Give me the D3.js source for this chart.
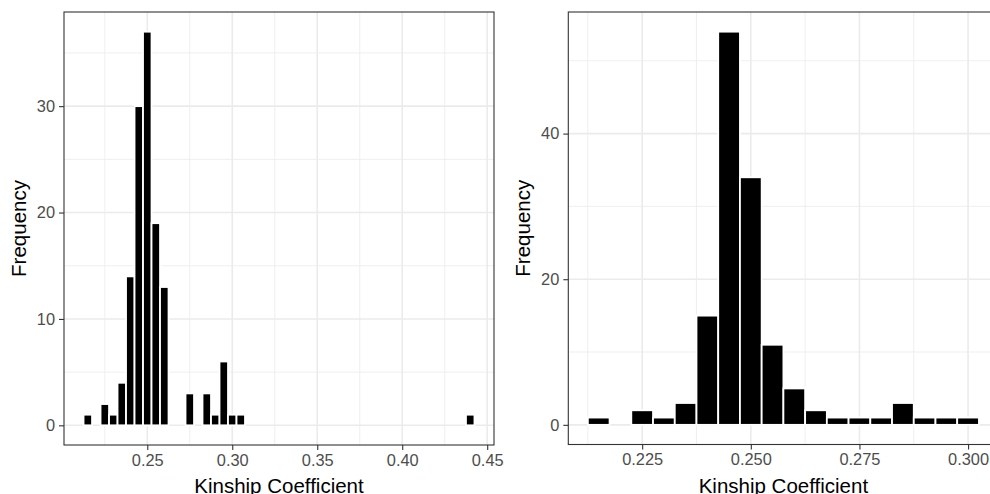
<!DOCTYPE html>
<html>
<head>
<meta charset="utf-8">
<script src="https://cdn.jsdelivr.net/npm/d3@7"></script>
<style>
  body { margin: 0; background: #fff; }
  svg { display: block; font-family: "Liberation Sans", Arial, sans-serif; }
</style>
</head>
<body>
<svg id="chart" width="990" height="494"></svg>
<script>
"use strict";

// histogram bins (centres) and counts
const binWidth = 0.005;

const leftBins = [0.215, 0.22, 0.225, 0.23, 0.235, 0.24, 0.245, 0.25, 0.255, 0.26,
                  0.265, 0.27, 0.275, 0.28, 0.285, 0.29, 0.295, 0.30, 0.305, 0.31,
                  0.315, 0.32, 0.325, 0.33, 0.335, 0.34, 0.345, 0.35, 0.355, 0.36,
                  0.365, 0.37, 0.375, 0.38, 0.385, 0.39, 0.395, 0.40, 0.405, 0.41,
                  0.415, 0.42, 0.425, 0.43, 0.435, 0.44];
const leftCounts = [1, 0, 2, 1, 4, 14, 30, 37, 19, 13,
                    0, 0, 3, 0, 3, 1, 6, 1, 1, 0,
                    0, 0, 0, 0, 0, 0, 0, 0, 0, 0,
                    0, 0, 0, 0, 0, 0, 0, 0, 0, 0,
                    0, 0, 0, 0, 0, 1];
const leftXTicks = [0.25, 0.30, 0.35, 0.40, 0.45];
const leftXMinor = [0.225, 0.275, 0.325, 0.375, 0.425];
const leftYTicks = [0, 10, 20, 30];
const leftYMinor = [5, 15, 25, 35];

const rightBins = [0.215, 0.22, 0.225, 0.23, 0.235, 0.24, 0.245, 0.25, 0.255, 0.26,
                   0.265, 0.27, 0.275, 0.28, 0.285, 0.29, 0.295, 0.30];
const rightCounts = [1, 0, 2, 1, 3, 15, 54, 34, 11, 5,
                     2, 1, 1, 1, 3, 1, 1, 1];
const rightXTicks = [0.225, 0.25, 0.275, 0.30];
const rightXMinor = [0.2125, 0.2375, 0.2625, 0.2875];
const rightYTicks = [0, 20, 40];
const rightYMinor = [10, 30, 50];

const svg = d3.select("#chart");

function drawPanel(o) {
	let data = o.bins.map((b, i) => ({x: b, n: o.counts[i]}));

	// ggplot style 5% expansion
	let xlo = d3.min(data, d => d.x) - binWidth / 2;
	let xhi = d3.max(data, d => d.x) + binWidth / 2;
	let xpad = (xhi - xlo) * 0.05;
	let ymax = d3.max(data, d => d.n);
	let ypad = ymax * 0.05;

	let x = d3.scaleLinear().domain([xlo - xpad, xhi + xpad]).range([o.left, o.right]);
	let y = d3.scaleLinear().domain([-ypad, ymax + ypad]).range([o.bottom, o.top]);

	let g = svg.append("g");

	// clip panel contents
	let clipId = "clip" + o.id;
	g.append("clipPath").attr("id", clipId)
		.append("rect")
		.attr("x", o.left).attr("y", o.top)
		.attr("width", o.right - o.left).attr("height", o.bottom - o.top);

	let panel = g.append("g").attr("clip-path", `url(#${clipId})`);

	// grid
	panel.selectAll(".vminor").data(o.xMinor).join("line")
		.attr("x1", d => x(d)).attr("x2", d => x(d))
		.attr("y1", o.top).attr("y2", o.bottom)
		.attr("stroke", "#ebebeb").attr("stroke-width", 0.8);
	panel.selectAll(".hminor").data(o.yMinor).join("line")
		.attr("y1", d => y(d)).attr("y2", d => y(d))
		.attr("x1", o.left).attr("x2", o.right)
		.attr("stroke", "#ebebeb").attr("stroke-width", 0.8);
	panel.selectAll(".vmajor").data(o.xTicks).join("line")
		.attr("x1", d => x(d)).attr("x2", d => x(d))
		.attr("y1", o.top).attr("y2", o.bottom)
		.attr("stroke", "#ebebeb").attr("stroke-width", 1.6);
	panel.selectAll(".hmajor").data(o.yTicks).join("line")
		.attr("y1", d => y(d)).attr("y2", d => y(d))
		.attr("x1", o.left).attr("x2", o.right)
		.attr("stroke", "#ebebeb").attr("stroke-width", 1.6);

	// bars
	panel.selectAll(".bar").data(data).join("rect")
		.attr("x", d => x(d.x - binWidth / 2))
		.attr("width", d => x(d.x + binWidth / 2) - x(d.x - binWidth / 2))
		.attr("y", d => y(d.n))
		.attr("height", d => y(0) - y(d.n))
		.attr("fill", "black")
		.attr("stroke", "white")
		.attr("stroke-width", 1.8);

	// panel border
	g.append("rect")
		.attr("x", o.left).attr("y", o.top)
		.attr("width", o.right - o.left).attr("height", o.bottom - o.top)
		.attr("fill", "none").attr("stroke", "#333333").attr("stroke-width", 1.1);

	// axes
	let xAxis = g.append("g")
		.attr("transform", `translate(0,${o.bottom})`)
		.call(d3.axisBottom(x).tickValues(o.xTicks).tickFormat(d3.format(o.xFmt))
			.tickSize(5).tickPadding(4));
	let yAxis = g.append("g")
		.attr("transform", `translate(${o.left},0)`)
		.call(d3.axisLeft(y).tickValues(o.yTicks).tickSize(5).tickPadding(4));

	for (let ax of [xAxis, yAxis]) {
		ax.select(".domain").remove();
		ax.selectAll(".tick line").attr("stroke", "#333333").attr("stroke-width", 1.1);
		ax.selectAll(".tick text")
			.attr("fill", "#4d4d4d")
			.style("font-size", "16.4px")
			.style("font-family", "'Liberation Sans', Arial, sans-serif");
	}
	xAxis.selectAll(".tick text").attr("dy", "0.71em");

	// titles
	g.append("text")
		.attr("x", (o.left + o.right) / 2)
		.attr("y", 493)
		.attr("text-anchor", "middle")
		.style("font-size", "20.5px")
		.attr("fill", "black")
		.text("Kinship Coefficient");
	g.append("text")
		.attr("transform", `translate(${o.ytitleX},${(o.top + o.bottom) / 2}) rotate(-90)`)
		.attr("text-anchor", "middle")
		.style("font-size", "20.5px")
		.attr("fill", "black")
		.text("Frequency");
}

drawPanel({
	id: "L", bins: leftBins, counts: leftCounts,
	xTicks: leftXTicks, xMinor: leftXMinor, yTicks: leftYTicks, yMinor: leftYMinor,
	xFmt: ".2f", left: 64, right: 494, top: 12, bottom: 445, ytitleX: 26
});

drawPanel({
	id: "R", bins: rightBins, counts: rightCounts,
	xTicks: rightXTicks, xMinor: rightXMinor, yTicks: rightYTicks, yMinor: rightYMinor,
	xFmt: ".3f", left: 568.3, right: 998.5, top: 12, bottom: 444.5, ytitleX: 530
});
</script>
</body>
</html>
